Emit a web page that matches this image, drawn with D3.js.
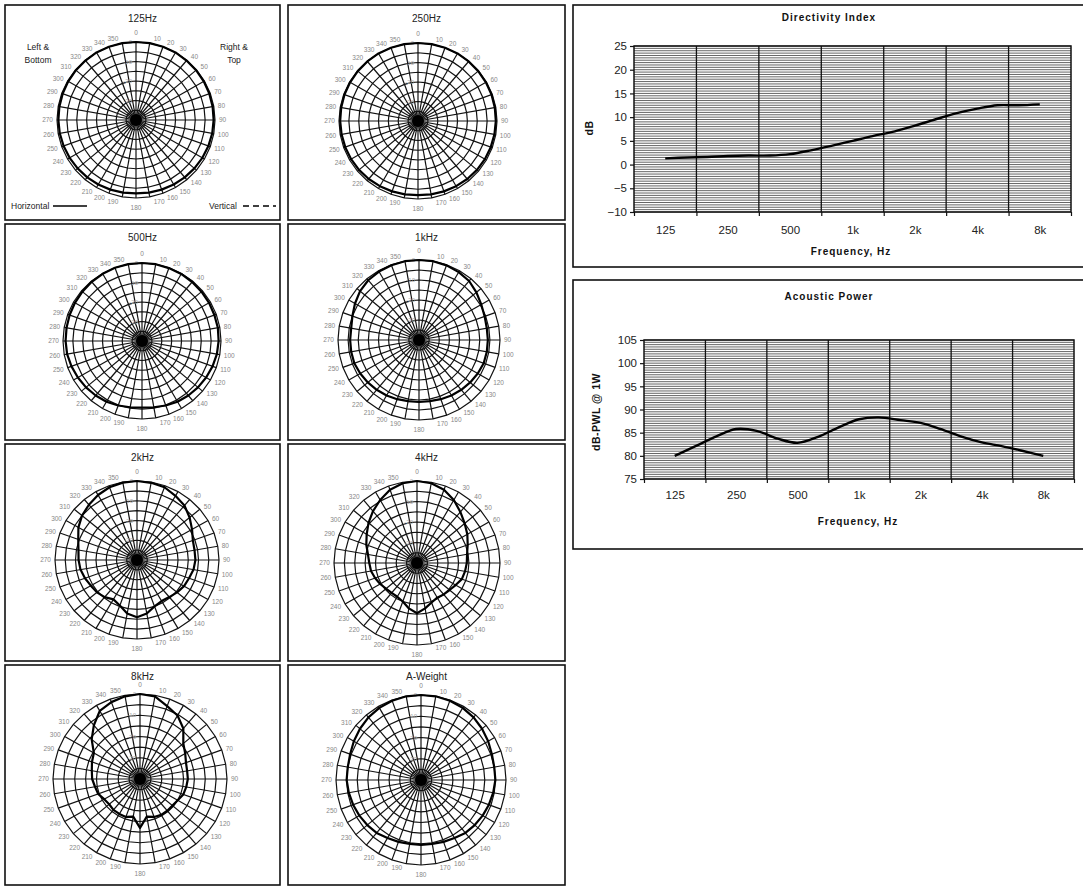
<!DOCTYPE html>
<html>
<head>
<meta charset="utf-8">
<script src="https://cdn.jsdelivr.net/npm/d3@7"></script>
<style>
  body { margin: 0; background: #fff; }
  svg { display: block; }
  text { font-family: "Liberation Sans", Arial, sans-serif; }
</style>
</head>
<body>
<svg id="chart" width="1083" height="886"></svg>
<script>
// ---- Polar data: relative level in dB at every 10 degrees (0..350) ----
const angles = d3.range(0, 360, 10);
const polarTitles = ["125Hz", "250Hz", "500Hz", "1kHz", "2kHz", "4kHz", "8kHz", "A-Weight"];

const h125 = [0, 0, 0, 0, -0.2, -0.3, -0.4, -0.5, -0.6, -0.7, -0.8, -1, -1.2, -1.4, -1.6, -1.8, -2, -2.2,
              -2.4, -2.2, -2, -1.8, -1.6, -1.4, -1.2, -1, -0.8, -0.7, -0.6, -0.5, -0.4, -0.3, -0.2, 0, 0, 0];
const h250 = [0, 0, 0, 0, -0.1, -0.2, -0.3, -0.4, -0.5, -0.6, -0.7, -0.8, -0.9, -1, -1.2, -1.4, -1.6, -1.8,
              -2, -1.8, -1.6, -1.4, -1.2, -1, -0.9, -0.8, -0.7, -0.6, -0.5, -0.4, -0.3, -0.2, -0.1, 0, 0, 0];
const h500 = [0, 0, -0.2, -0.3, -0.5, -0.7, -0.8, -1, -1, -1.2, -1.5, -2, -2.5, -3, -3.5, -4, -4.8, -5.5,
              -5.8, -5.5, -4.8, -4, -3.5, -3, -2.5, -2, -1.5, -1.3, -1.2, -1, -0.8, -0.6, -0.4, -0.2, 0, 0];
const h1k  = [0, 0, -0.3, -0.8, -1.5, -3, -4.5, -5.5, -6, -6, -6, -6, -6.5, -7, -7.5, -8, -8.5, -9,
              -9, -9, -8.5, -8, -7.5, -7, -6.5, -6, -6, -6, -6, -5, -3.5, -2, -1, -0.5, -0.2, 0];
const h2k  = [0, -0.3, -0.8, -2.5, -4, -6.5, -9, -11, -11.5, -11.5, -12, -13, -13.5, -14.5, -15.5, -16, -15, -12.5,
              -11, -12.5, -15.5, -17, -15.5, -14.5, -14, -13, -12, -11.5, -11, -9.5, -7, -5, -3.5, -2, -0.8, -0.2];
const h4k  = [0, -0.5, -2, -4.5, -7.5, -10, -12, -14, -15.5, -16, -16.5, -17, -18.5, -19.5, -20, -20.5, -19.5, -17.5,
              -15.5, -17.5, -20, -21, -21, -20.5, -19.5, -18.5, -17.5, -17, -16, -14, -12, -9.5, -7, -4.5, -2, -0.5];
const h8k  = [0, -0.5, -3.5, -5.5, -9, -14, -16, -17.5, -18, -18, -18.4, -18.8, -20, -20.5, -20.5, -20.5, -21, -22,
              -17, -22, -21, -21, -21, -21.5, -21, -19.5, -19, -18, -17.5, -16.5, -15.5, -11, -7, -3, -1.5, -0.5];
const hAw  = [0, 0, -0.3, -0.8, -1.5, -2.5, -3.5, -4.5, -5, -5, -5.5, -6, -6.5, -7, -7.5, -8.5, -9, -9.5,
              -9.5, -9.5, -9, -8.5, -7.5, -7, -6.5, -6, -5.5, -5, -5, -4.5, -3.5, -2.5, -1.5, -0.8, -0.3, 0];
const polarSeries = [h125, h250, h500, h1k, h2k, h4k, h8k, hAw];

// Radial axis
const radialDomain = [-40, 0];
const ringLevels = d3.range(-35, 1, 5);
const radialLabels = [0, -10, -20, -30];

// ---- Frequency-domain data (1/3-octave points) ----
const freqs = [125, 160, 200, 250, 315, 400, 500, 630, 800, 1000, 1250, 1600, 2000, 2500, 3150, 4000, 5000, 6300, 8000];
const directivity = [1.3, 1.5, 1.6, 1.8, 1.9, 1.9, 2.2, 3.0, 4.0, 5.0, 6.0, 7.0, 8.2, 9.5, 10.8, 11.8, 12.5, 12.5, 12.7];
const acousticPower = [80.0, 82.2, 84.2, 85.8, 85.4, 83.7, 82.8, 84.1, 86.2, 87.9, 88.3, 87.7, 87.1, 85.8, 84.2, 82.9, 82.1, 81.1, 80.0];
const bandCentres = [125, 250, 500, 1000, 2000, 4000, 8000];
const bandLabels = ["125", "250", "500", "1k", "2k", "4k", "8k"];

// ---- Layout ----
const polarLayout = [
  { box: [5, 5, 275, 215],     cx: 136, cy: 120, rx: 79, ry: 78, ty: 17 },
  { box: [288, 5, 277, 215],   cx: 418, cy: 121, rx: 79, ry: 78, ty: 17 },
  { box: [5, 224, 275, 216],   cx: 142, cy: 341, rx: 79, ry: 78, ty: 17 },
  { box: [288, 224, 277, 216], cx: 419, cy: 340, rx: 81, ry: 80, ty: 17 },
  { box: [5, 444, 275, 217],   cx: 137, cy: 560, rx: 82, ry: 79, ty: 17 },
  { box: [288, 444, 277, 217], cx: 417, cy: 563, rx: 83, ry: 82, ty: 17 },
  { box: [5, 665, 275, 220],   cx: 140, cy: 779, rx: 87, ry: 85, ty: 14.5 },
  { box: [288, 665, 277, 220], cx: 421, cy: 780, rx: 85, ry: 85, ty: 14.5 }
];

const svg = d3.select("#chart");

function drawPolar(lay, title, values, withLegend) {
  const g = svg.append("g");
  const [bx, by, bw, bh] = lay.box;
  g.append("rect").attr("x", bx).attr("y", by).attr("width", bw).attr("height", bh)
    .attr("fill", "#fff").attr("stroke", "#111").attr("stroke-width", 1.6);

  const r = d3.scaleLinear().domain(radialDomain).range([0, 1]).clamp(true);
  const pt = (deg, v) => {
    const a = deg * Math.PI / 180, k = r(v);
    return [lay.cx + lay.rx * k * Math.sin(a), lay.cy - lay.ry * k * Math.cos(a)];
  };
  const closed = d3.line().curve(d3.curveLinearClosed);

  // spokes
  g.selectAll("line.spoke").data(angles).join("line")
    .attr("x1", lay.cx).attr("y1", lay.cy)
    .attr("x2", d => pt(d, 0)[0]).attr("y2", d => pt(d, 0)[1])
    .attr("stroke", "#111").attr("stroke-width", 1.2);

  // rings
  g.selectAll("path.ring").data(ringLevels).join("path")
    .attr("d", l => closed(angles.map(a => pt(a, l))))
    .attr("fill", "none").attr("stroke", "#111").attr("stroke-width", 1.2);

  // hub where the spokes converge
  g.append("ellipse").attr("cx", lay.cx).attr("cy", lay.cy).attr("rx", 6).attr("ry", 6).attr("fill", "#000");

  // radial value labels along the 0 degree spoke
  g.selectAll("text.rl").data(radialLabels).join("text")
    .attr("x", lay.cx - 4).attr("y", d => pt(0, d)[1] + 2)
    .attr("text-anchor", "end").attr("font-size", 6).attr("fill", "#aaa")
    .text(d => d);

  // angle labels: beside each outer vertex, pushed sideways
  const side = a => (a === 0 || a === 180) ? 0 : (a < 180 ? 1 : -1);
  g.selectAll("text.al").data(angles).join("text")
    .attr("x", a => pt(a, 0)[0] + side(a) * 4)
    .attr("y", a => {
      const [, vy] = pt(a, 0);
      if (a === 0) return vy - 7.2;
      if (a === 180) return vy + 12;
      return vy - 4.5 * Math.cos(a * Math.PI / 180) + 2.3;
    })
    .attr("text-anchor", a => side(a) === 0 ? "middle" : (side(a) > 0 ? "start" : "end"))
    .attr("font-size", 6.5).attr("fill", "#888")
    .text(a => a);

  // data trace
  g.append("path")
    .attr("d", closed(angles.map((a, i) => pt(a, values[i]))))
    .attr("fill", "none").attr("stroke", "#000").attr("stroke-width", 2.2)
    .attr("stroke-linejoin", "round");

  // title
  g.append("text").attr("x", bx + bw / 2).attr("y", by + lay.ty)
    .attr("text-anchor", "middle").attr("font-size", 10).attr("fill", "#222").text(title);

  if (withLegend) {
    const fs = 8.5;
    g.append("text").attr("x", bx + 33).attr("y", by + 45).attr("text-anchor", "middle").attr("font-size", fs).attr("fill", "#222").text("Left &");
    g.append("text").attr("x", bx + 33).attr("y", by + 58).attr("text-anchor", "middle").attr("font-size", fs).attr("fill", "#222").text("Bottom");
    g.append("text").attr("x", bx + 229).attr("y", by + 45).attr("text-anchor", "middle").attr("font-size", fs).attr("fill", "#222").text("Right &");
    g.append("text").attr("x", bx + 229).attr("y", by + 58).attr("text-anchor", "middle").attr("font-size", fs).attr("fill", "#222").text("Top");
    const ly = by + bh - 14;
    g.append("text").attr("x", bx + 6).attr("y", ly + 3).attr("font-size", fs).attr("fill", "#222").text("Horizontal");
    g.append("line").attr("x1", bx + 48).attr("x2", bx + 82).attr("y1", ly).attr("y2", ly)
      .attr("stroke", "#000").attr("stroke-width", 1.6);
    g.append("text").attr("x", bx + 204).attr("y", ly + 3).attr("font-size", fs).attr("fill", "#222").text("Vertical");
    g.append("line").attr("x1", bx + 238).attr("x2", bx + 271).attr("y1", ly).attr("y2", ly)
      .attr("stroke", "#000").attr("stroke-width", 1.6).attr("stroke-dasharray", "6,4");
  }
}

polarLayout.forEach((lay, i) => drawPolar(lay, polarTitles[i], polarSeries[i], i === 0));

// ---- Frequency-response style panels ----
function drawFreqChart(cfg) {
  const g = svg.append("g");
  g.append("rect").attr("x", cfg.box[0]).attr("y", cfg.box[1]).attr("width", cfg.box[2]).attr("height", cfg.box[3])
    .attr("fill", "#fff").attr("stroke", "#111").attr("stroke-width", 1.6);

  const x = d3.scaleLog().domain([125 / Math.SQRT2, 8000 * Math.SQRT2]).range([cfg.plot[0], cfg.plot[2]]);
  const y = d3.scaleLinear().domain(cfg.yDomain).range([cfg.plot[3], cfg.plot[1]]);
  const edges = bandCentres.map(f => f / Math.SQRT2).concat([8000 * Math.SQRT2]);

  // minor horizontal grid
  g.selectAll("line.minor").data(d3.range(cfg.yDomain[0], cfg.yDomain[1] + 0.001, cfg.minor)).join("line")
    .attr("x1", cfg.plot[0]).attr("x2", cfg.plot[2])
    .attr("y1", d => y(d)).attr("y2", d => y(d))
    .attr("stroke", "#222").attr("stroke-width", 0.7);

  // vertical band-edge grid
  g.selectAll("line.vgrid").data(edges.slice(1, -1)).join("line")
    .attr("x1", d => x(d)).attr("x2", d => x(d))
    .attr("y1", cfg.plot[1]).attr("y2", cfg.plot[3])
    .attr("stroke", "#111").attr("stroke-width", 1.3);

  // plot frame
  g.append("rect").attr("x", cfg.plot[0]).attr("y", cfg.plot[1])
    .attr("width", cfg.plot[2] - cfg.plot[0]).attr("height", cfg.plot[3] - cfg.plot[1])
    .attr("fill", "none").attr("stroke", "#111").attr("stroke-width", 1.5);

  // y axis
  const ya = g.append("g").attr("transform", `translate(${cfg.plot[0]},0)`)
    .call(d3.axisLeft(y).tickValues(d3.range(cfg.yDomain[0], cfg.yDomain[1] + 0.001, 5)).tickSize(4).tickPadding(3));
  ya.select(".domain").remove();
  ya.selectAll("line").attr("stroke", "#111").attr("stroke-width", 1.2);
  ya.selectAll("text").attr("font-size", 11.5).attr("fill", "#222").style("font-family", "Liberation Sans, Arial, sans-serif");

  // x axis: ticks on band edges, labels at band centres
  const xt = g.append("g").attr("transform", `translate(0,${cfg.plot[3]})`)
    .call(d3.axisBottom(x).tickValues(edges).tickSize(4).tickFormat(""));
  xt.select(".domain").remove();
  xt.selectAll("line").attr("stroke", "#111").attr("stroke-width", 1.2);
  const xl = g.append("g").attr("transform", `translate(0,${cfg.plot[3]})`)
    .call(d3.axisBottom(x).tickValues(bandCentres).tickSize(0).tickPadding(cfg.xPad)
      .tickFormat((d, i) => bandLabels[i]));
  xl.select(".domain").remove();
  xl.selectAll("text").attr("font-size", 11.5).attr("fill", "#222").style("font-family", "Liberation Sans, Arial, sans-serif");

  // data curve
  const line = d3.line().x((d, i) => x(freqs[i])).y(d => y(d)).curve(d3.curveCatmullRom.alpha(0.5));
  g.append("path").attr("d", line(cfg.values)).attr("fill", "none")
    .attr("stroke", "#000").attr("stroke-width", 2.4);

  // titles
  g.append("text").attr("x", cfg.title[0]).attr("y", cfg.title[1]).attr("text-anchor", "middle")
    .attr("font-size", 10).attr("font-weight", "bold").attr("letter-spacing", 1).attr("fill", "#111").text(cfg.titleText);
  g.append("text").attr("x", cfg.xTitle[0]).attr("y", cfg.xTitle[1]).attr("text-anchor", "middle")
    .attr("font-size", 10).attr("font-weight", "bold").attr("letter-spacing", 1).attr("fill", "#111").text("Frequency, Hz");
  g.append("text").attr("transform", `translate(${cfg.yTitle[0]},${cfg.yTitle[1]}) rotate(-90)`)
    .attr("text-anchor", "middle").attr("font-size", 10.5).attr("font-weight", "bold").attr("letter-spacing", 0.5)
    .attr("fill", "#111").text(cfg.yTitleText);
}

drawFreqChart({
  box: [573, 5, 520, 262],
  plot: [634, 46, 1071, 212],
  yDomain: [-10, 25], minor: 0.5,
  values: directivity,
  titleText: "Directivity Index", title: [829, 21],
  xTitle: [851, 255], yTitle: [593, 128], yTitleText: "dB",
  xPad: 14
});

drawFreqChart({
  box: [573, 280, 520, 269],
  plot: [644, 340, 1074, 479],
  yDomain: [75, 105], minor: 0.5,
  values: acousticPower,
  titleText: "Acoustic Power", title: [829, 300],
  xTitle: [858, 525], yTitle: [600, 412], yTitleText: "dB-PWL @ 1W",
  xPad: 12
});
</script>
</body>
</html>
